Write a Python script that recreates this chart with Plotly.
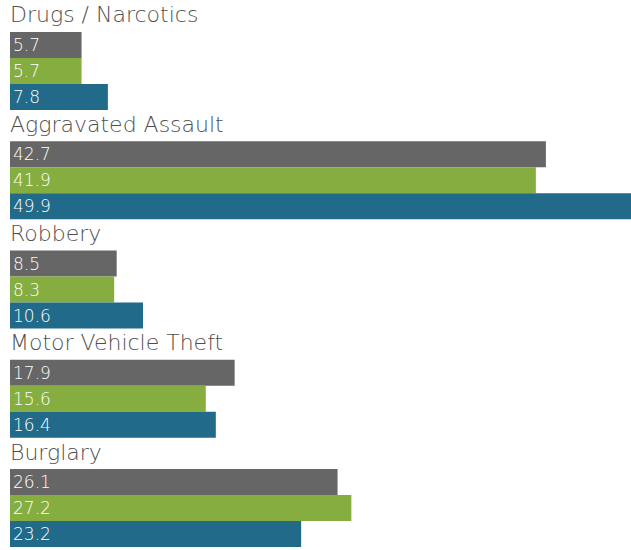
import plotly.graph_objects as go

categories = ["Drugs / Narcotics", "Aggravated Assault", "Robbery", "Motor Vehicle Theft", "Burglary"]
series_names = ["Series A", "Series B", "Series C"]
series_values = [
    [5.7, 42.7, 8.5, 17.9, 26.1],
    [5.7, 41.9, 8.3, 15.6, 27.2],
    [7.8, 49.9, 10.6, 16.4, 23.2],
]
colors = ["#666666", "#86ad3f", "#216a8a"]

W, H = 631, 550
BAR_PX = 26.0
PITCH = 109.25 / BAR_PX      # group pitch in bar units
FIRST_TOP = 32 / BAR_PX
PX_PER_UNIT = 12.55
FONT = "DejaVu Sans Light, DejaVu Sans, sans-serif"

fig = go.Figure()
for s, (name, vals, col) in enumerate(zip(series_names, series_values, colors)):
    ys = [FIRST_TOP + g * PITCH + s + 0.5 for g in range(len(categories))]
    fig.add_trace(go.Bar(
        x=vals, y=ys, orientation="h", name=name,
        marker=dict(color=col, line=dict(width=0)),
        width=1.0,
        text=[f"{v:.1f}" for v in vals],
        textposition="inside", insidetextanchor="start",
        textfont=dict(color="white", size=17, family=FONT),
        constraintext="none",
        showlegend=False,
        hoverinfo="x+name",
    ))

for g, cat in enumerate(categories):
    fig.add_annotation(
        x=0, xref="paper", xanchor="left", xshift=-2,
        y=FIRST_TOP + g * PITCH, yref="y", yanchor="bottom", yshift=2.5,
        text=cat, showarrow=False,
        font=dict(size=22, color="#4f4f4f", family=FONT),
    )

plot_w = W - 10
fig.update_layout(
    width=W, height=H,
    margin=dict(l=10, r=0, t=0, b=0),
    paper_bgcolor="white", plot_bgcolor="white",
    barmode="overlay",
    xaxis=dict(range=[0, plot_w / PX_PER_UNIT], visible=False, showgrid=False, zeroline=False),
    yaxis=dict(range=[H / BAR_PX, 0], visible=False, showgrid=False, zeroline=False),
)

fig.write_html("out.html", config={"displayModeBar": False},
               post_script="document.body.style.margin='0';document.body.style.overflow='hidden';")
